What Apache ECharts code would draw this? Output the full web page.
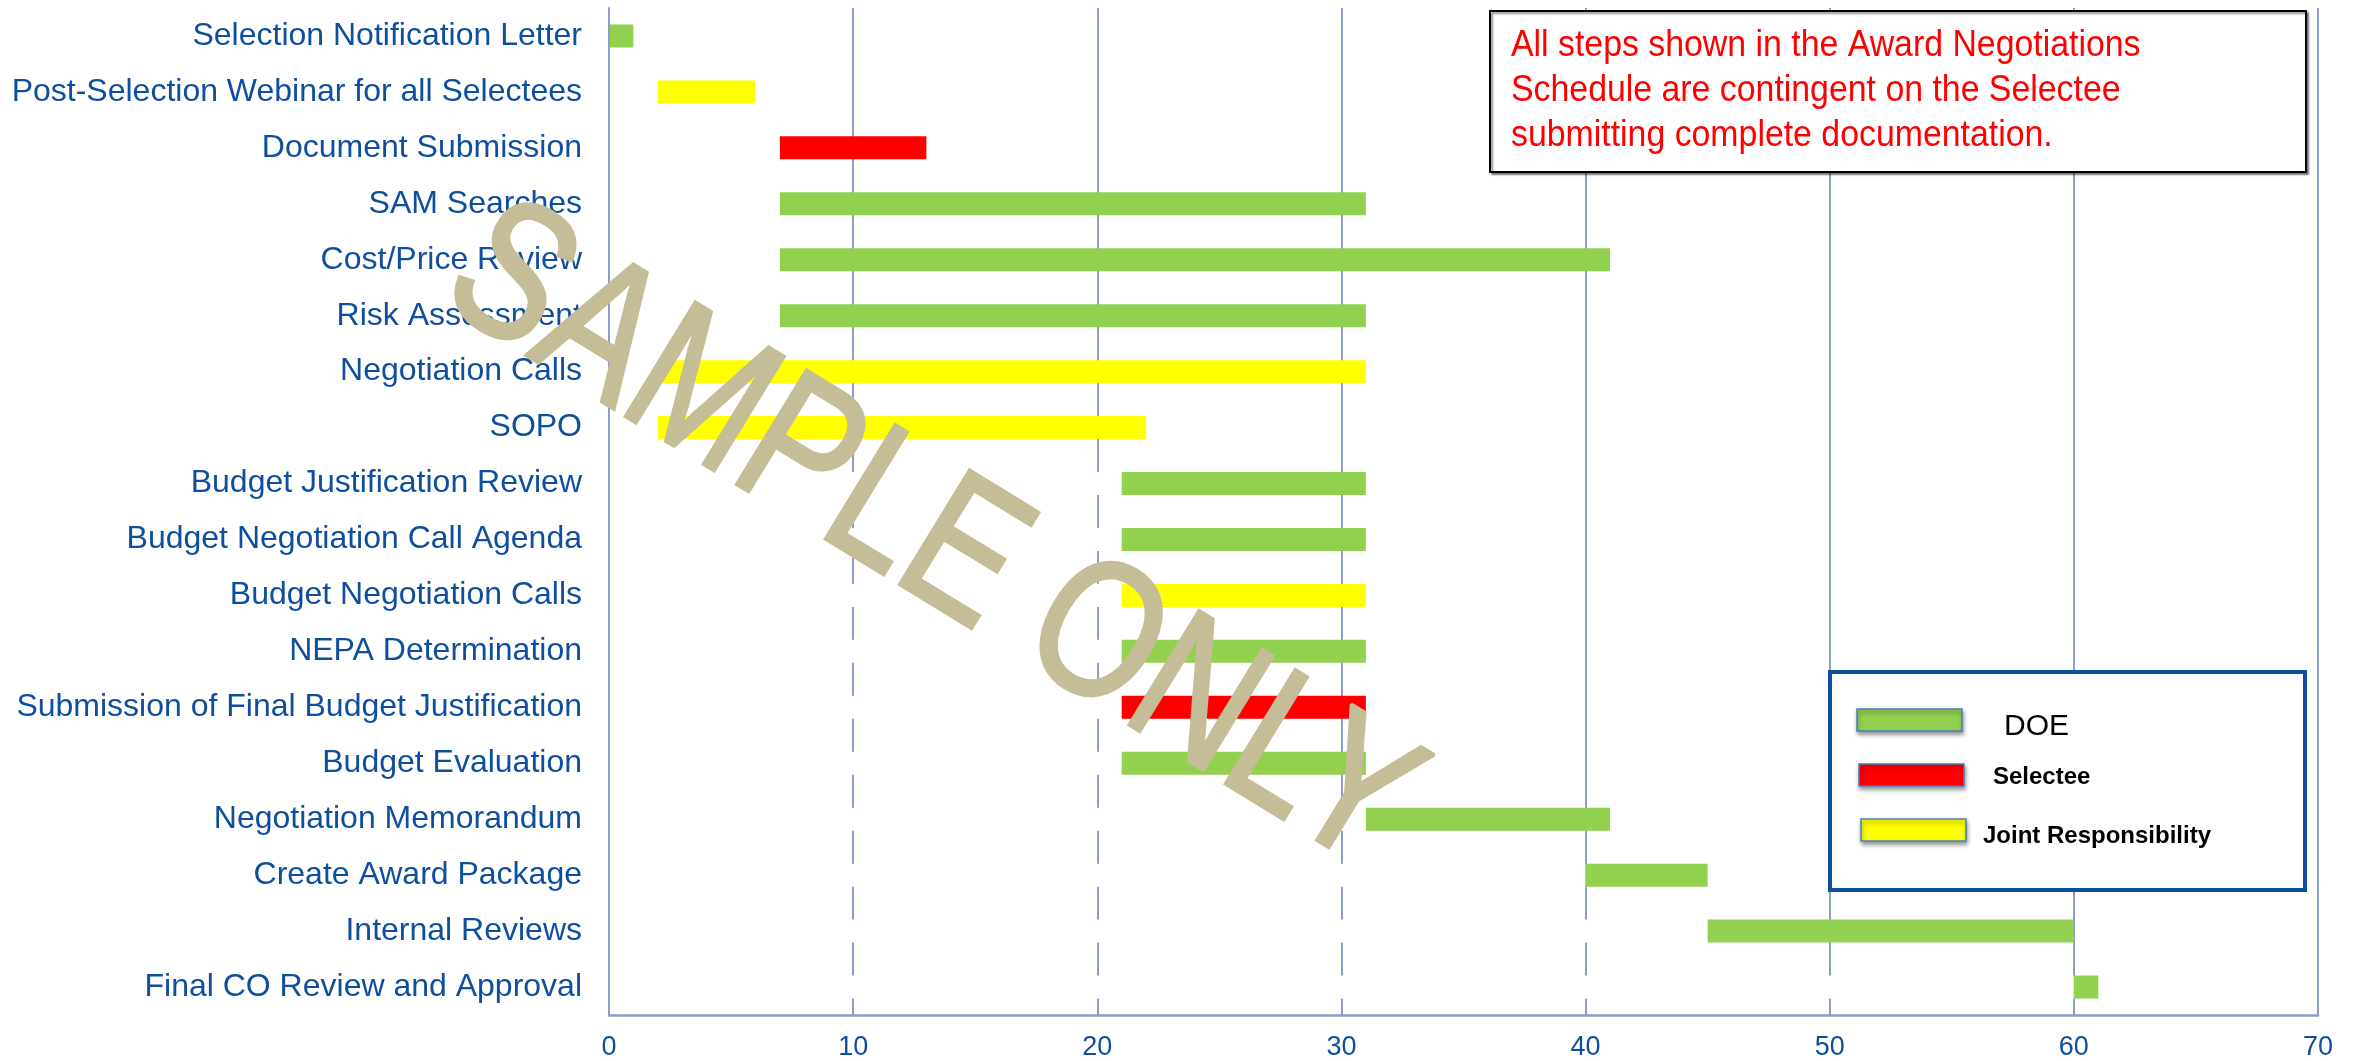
<!DOCTYPE html>
<html>
<head>
<meta charset="utf-8">
<script src="https://cdn.jsdelivr.net/npm/echarts@6/dist/echarts.min.js"></script>
<style>
html,body{margin:0;padding:0;background:#fff;}
#chart{width:2361px;height:1061px;}
</style>
</head>
<body>
<div id="chart"></div>
<script>
const categories = [
  "Selection Notification Letter",
  "Post-Selection Webinar for all Selectees",
  "Document Submission",
  "SAM Searches",
  "Cost/Price Review",
  "Risk Assessment",
  "Negotiation Calls",
  "SOPO",
  "Budget Justification Review",
  "Budget Negotiation Call Agenda",
  "Budget Negotiation Calls",
  "NEPA Determination",
  "Submission of Final Budget Justification",
  "Budget Evaluation",
  "Negotiation Memorandum",
  "Create Award Package",
  "Internal Reviews",
  "Final CO Review and Approval"
];
const startDays = [0, 2, 7, 7, 7, 7, 2, 2, 21, 21, 21, 21, 21, 21, 31, 40, 45, 60];
const endDays   = [1, 6, 13, 31, 41, 31, 31, 22, 31, 31, 31, 31, 31, 31, 41, 45, 60, 61];
const owners = ["DOE","Joint","Selectee","DOE","DOE","DOE","Joint","Joint","DOE","DOE","Joint","DOE","Selectee","DOE","DOE","DOE","DOE","DOE"];
const xTicks = [0, 10, 20, 30, 40, 50, 60, 70];
const legendLabels = ["DOE", "Selectee", "Joint Responsibility"];
const noteText = "All steps shown in the Award Negotiations\nSchedule are contingent on the Selectee\nsubmitting complete documentation.";
const watermarkText = "SAMPLE ONLY";

const ownerColors = { DOE: "#92D050", Selectee: "#FF0000", Joint: "#FFFF00" };
const gridColor = "#8E9CC8";
const labelBlue = "#0E4E9F";
const FONT = '"Liberation Sans", Arial, sans-serif';

const durationData = endDays.map((e, i) => ({
  value: e - startDays[i],
  itemStyle: { color: ownerColors[owners[i]] }
}));

const chart = echarts.init(document.getElementById('chart'), null, { renderer: 'canvas' });

const legendSwatches = [
  { x: 1857, y: 709, color: ownerColors.DOE },
  { x: 1859, y: 764, color: ownerColors.Selectee },
  { x: 1861, y: 819, color: ownerColors.Joint }
];
const legendTexts = [
  { x: 2004, y: 727, size: 30, weight: 'normal' },
  { x: 1993, y: 777, size: 24, weight: 'bold' },
  { x: 1983, y: 836, size: 24, weight: 'bold' }
];

const graphics = [
  {
    type: 'rect', z: 50,
    shape: { x: 1490, y: 11, width: 816, height: 161 },
    style: { fill: '#fff', stroke: '#000', lineWidth: 2,
      shadowBlur: 2, shadowOffsetX: 2, shadowOffsetY: 2, shadowColor: 'rgba(0,0,0,0.45)' }
  },
  {
    type: 'text', z: 51, x: 1511, y: 24, scaleX: 0.94,
    style: { text: noteText, fill: '#FF0000', fontSize: 36, fontFamily: FONT,
      lineHeight: 45, align: 'left', verticalAlign: 'top' }
  },
  {
    type: 'rect', z: 50,
    shape: { x: 1830, y: 672, width: 475, height: 218 },
    style: { fill: '#fff', stroke: '#0B509F', lineWidth: 4 }
  }
];
legendSwatches.forEach((s) => {
  graphics.push({
    type: 'rect', z: 51,
    shape: { x: s.x, y: s.y, width: 105, height: 22 },
    style: { fill: s.color, stroke: '#4A7EBB', lineWidth: 1.5,
      shadowBlur: 4, shadowOffsetX: 1, shadowOffsetY: 3, shadowColor: 'rgba(0,0,0,0.4)' }
  });
});
legendTexts.forEach((t, i) => {
  graphics.push({
    type: 'text', z: 51, x: t.x, y: t.y,
    style: { text: legendLabels[i], fill: '#000', fontSize: t.size, fontWeight: t.weight,
      fontFamily: FONT, align: 'left', verticalAlign: 'middle' }
  });
});
graphics.push({
  type: 'text', z: 200, x: 930, y: 540,
  rotation: -31.5 * Math.PI / 180,
  scaleX: 0.965, scaleY: 1.2,
  style: { text: watermarkText, fill: '#C4BD97', stroke: '#C4BD97', lineWidth: 3,
    fontSize: 162, fontFamily: FONT, align: 'center', verticalAlign: 'middle' }
});

const option = {
  backgroundColor: '#ffffff',
  animation: false,
  grid: { left: 609, right: 43, top: 8, bottom: 44, containLabel: false },
  xAxis: {
    type: 'value', min: 0, max: 70, interval: 10, position: 'bottom', z: 0,
    axisLine: { show: true, lineStyle: { color: gridColor, width: 2.5 } },
    axisTick: { show: false },
    splitLine: { show: true, lineStyle: { color: gridColor, width: 2 } },
    axisLabel: { color: labelBlue, fontSize: 27, fontFamily: FONT, margin: 19,
      formatter: (v) => (xTicks.indexOf(v) >= 0 ? String(v) : '') }
  },
  yAxis: {
    type: 'category', inverse: true, data: categories, z: 3,
    axisLine: { show: true, lineStyle: { color: gridColor, width: 2 } },
    axisTick: { show: false },
    splitLine: { show: false },
    axisLabel: { color: labelBlue, fontSize: 32, fontFamily: FONT, margin: 27 }
  },
  series: [
    {
      name: 'offset', type: 'bar', stack: 'gantt', barWidth: 23, silent: true,
      itemStyle: { color: '#ffffff' },
      data: startDays
    },
    {
      name: 'duration', type: 'bar', stack: 'gantt', barWidth: 23,
      data: durationData
    }
  ],
  graphic: graphics
};
chart.setOption(option);
</script>
</body>
</html>
